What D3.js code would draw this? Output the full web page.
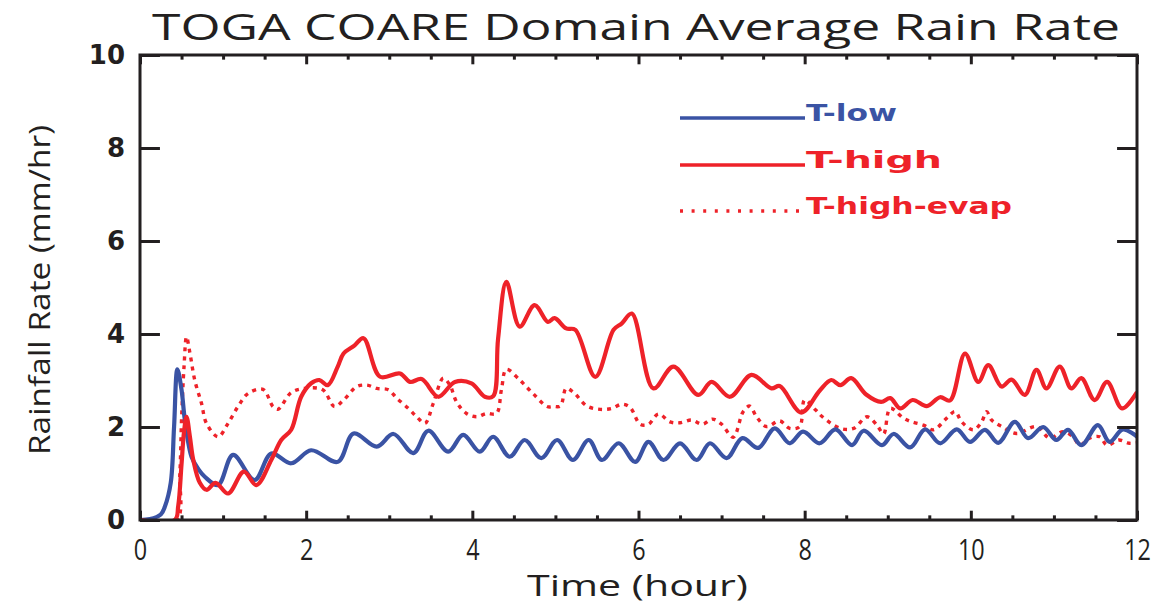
<!DOCTYPE html>
<html>
<head>
<meta charset="utf-8">
<script src="https://cdn.jsdelivr.net/npm/d3@7"></script>
<style>
  html, body { margin: 0; padding: 0; background: #fff; }
  svg { display: block; }
</style>
</head>
<body>
<svg id="chart" width="1166" height="607"></svg>
<script>
// Domain-averaged rain rate, three model runs (time in hours, rate in mm/hr)
const lowTime = [0,0.12,0.25,0.3,0.37,0.41,0.45,0.5,0.54,0.62,0.7,0.78,0.94,1.12,1.38,1.58,1.82,2.06,2.38,2.57,2.85,3.05,3.29,3.47,3.71,3.89,4.09,4.25,4.45,4.63,4.83,5.02,5.21,5.40,5.56,5.76,5.96,6.12,6.30,6.50,6.70,6.86,7.06,7.25,7.44,7.64,7.82,7.98,8.18,8.37,8.57,8.71,8.93,9.07,9.27,9.45,9.63,9.83,9.99,10.17,10.33,10.53,10.69,10.87,11.03,11.17,11.33,11.53,11.67,11.83,12.0];
const lowRate = [0,0.02,0.12,0.29,0.8,2.0,3.24,2.8,2.15,1.36,1.1,0.93,0.75,1.4,0.86,1.43,1.22,1.5,1.25,1.86,1.58,1.85,1.44,1.92,1.47,1.83,1.47,1.79,1.36,1.72,1.33,1.72,1.29,1.72,1.29,1.65,1.25,1.68,1.29,1.65,1.29,1.65,1.33,1.76,1.55,1.97,1.65,1.9,1.65,1.95,1.61,1.92,1.61,1.85,1.56,1.95,1.65,1.95,1.68,1.94,1.66,2.11,1.76,2.0,1.72,1.94,1.61,2.04,1.68,1.95,1.79];

const highTime = [0,0.42,0.46,0.5,0.53,0.56,0.6,0.64,0.72,0.8,0.91,1.06,1.25,1.4,1.58,1.7,1.82,1.94,2.06,2.16,2.26,2.38,2.45,2.58,2.69,2.89,3.13,3.25,3.39,3.59,3.79,3.99,4.15,4.25,4.31,4.41,4.57,4.75,4.91,4.99,5.13,5.24,5.48,5.7,5.8,5.92,6.18,6.42,6.72,6.88,7.1,7.36,7.6,7.7,7.96,8.18,8.32,8.43,8.56,8.74,8.92,9.03,9.15,9.3,9.47,9.63,9.75,9.93,10.09,10.21,10.37,10.49,10.65,10.79,10.91,11.07,11.21,11.33,11.49,11.64,11.82,12.0];
const highRate = [0,0,0.3,1.2,1.9,2.22,1.8,1.3,0.8,0.65,0.8,0.57,1.04,0.75,1.29,1.72,1.94,2.65,2.94,3.01,2.9,3.3,3.58,3.75,3.91,3.08,3.15,2.97,3.03,2.65,2.97,2.94,2.65,2.66,3.9,5.12,4.16,4.62,4.26,4.34,4.12,4.09,3.08,4.09,4.23,4.44,2.83,3.3,2.69,2.97,2.65,3.12,2.83,2.88,2.31,2.78,3.01,2.9,3.05,2.7,2.54,2.62,2.4,2.58,2.45,2.64,2.57,3.58,2.97,3.33,2.87,3.02,2.69,3.23,2.83,3.3,2.83,3.05,2.58,2.97,2.4,2.75];

const evapTime = [0,0.44,0.48,0.5,0.53,0.56,0.6,0.66,0.74,0.8,0.94,1.06,1.18,1.3,1.48,1.6,1.66,1.82,1.98,2.2,2.34,2.45,2.61,2.73,2.85,2.99,3.09,3.23,3.33,3.43,3.53,3.65,3.73,3.81,3.93,4.05,4.17,4.29,4.35,4.41,4.57,4.73,4.9,4.98,5.06,5.13,5.22,5.38,5.54,5.68,5.8,5.9,6.02,6.12,6.24,6.38,6.5,6.64,6.77,6.89,7.0,7.14,7.26,7.34,7.42,7.54,7.7,7.82,7.94,8.0,8.13,8.22,8.43,8.59,8.75,8.87,8.95,9.03,9.19,9.29,9.43,9.55,9.71,9.81,9.89,10.03,10.13,10.19,10.25,10.37,10.55,10.79,10.95,11.11,11.23,11.31,11.43,11.55,11.64,11.78,11.91,12.0];
const evapRate = [0,0,1.0,2.15,3.3,3.94,3.6,3.0,2.51,2.08,1.79,2.08,2.44,2.72,2.81,2.44,2.38,2.74,2.83,2.8,2.44,2.58,2.87,2.9,2.83,2.8,2.62,2.4,2.22,2.08,2.51,3.05,2.9,2.54,2.29,2.22,2.29,2.29,2.8,3.24,3.01,2.72,2.44,2.44,2.45,2.83,2.74,2.45,2.38,2.4,2.49,2.42,2.06,2.06,2.28,2.11,2.09,2.15,2.06,2.17,2.06,1.78,2.33,2.45,2.22,2.01,2.13,1.97,2.01,2.58,2.37,2.21,1.97,1.97,2.22,2.04,1.85,2.4,2.19,2.11,2.04,1.94,2.19,2.33,2.11,1.94,2.11,2.33,2.15,2.01,1.86,2.01,1.76,1.9,1.79,1.61,1.76,1.79,1.61,1.72,1.65,1.66];

const xMajorTicks = [0, 2, 4, 6, 8, 10, 12];
const yMajorTicks = [0, 2, 4, 6, 8, 10];
const seriesNames = ["T-low", "T-high", "T-high-evap"];

const BLUE = "#3a53a4";
const RED = "#ee2229";
const INK = "#231f20";

const svg = d3.select("#chart");
const plotLeft = 140, plotRight = 1137, plotTop = 55, plotBottom = 520;
const W = plotRight - plotLeft, H = plotBottom - plotTop;

const x = d3.scaleLinear().domain([0, 12]).range([plotLeft, plotRight]);
const y = d3.scaleLinear().domain([0, 10]).range([plotBottom, plotTop]);

const zip = (ts, vs) => ts.map((t, i) => [t, vs[i]]);
const line = d3.line()
  .x(d => x(d[0]))
  .y(d => y(d[1]))
  .curve(d3.curveCatmullRom.alpha(0.5));

svg.append("defs").append("clipPath").attr("id", "clip")
  .append("rect").attr("x", plotLeft).attr("y", plotTop).attr("width", W).attr("height", H);

const curves = svg.append("g").attr("clip-path", "url(#clip)");
curves.append("path").datum(zip(evapTime, evapRate))
  .attr("d", line).attr("fill", "none").attr("stroke", RED)
  .attr("stroke-width", 3.4).attr("stroke-dasharray", "4,5");
curves.append("path").datum(zip(lowTime, lowRate))
  .attr("d", line).attr("fill", "none").attr("stroke", BLUE)
  .attr("stroke-width", 4.2).attr("stroke-linejoin", "round");
curves.append("path").datum(zip(highTime, highRate))
  .attr("d", line).attr("fill", "none").attr("stroke", RED)
  .attr("stroke-width", 4.2).attr("stroke-linejoin", "round");

// Axes: tick lengths scale with the opposite plot dimension
const xMajorLen = 0.02 * H, xMinorLen = 0.01 * H;
const yMajorLen = 0.02 * W;
const xMinor = d3.range(0, 12.01, 0.5).filter(v => !xMajorTicks.includes(v));

const bottomAxis = d3.axisBottom(x).tickValues(xMajorTicks).tickSize(-xMajorLen).tickFormat(d3.format("d"));
const bottomMinor = d3.axisBottom(x).tickValues(xMinor).tickSize(-xMinorLen).tickFormat("");
const topAxis = d3.axisTop(x).tickValues(xMajorTicks).tickSize(-xMajorLen).tickFormat("");
const topMinor = d3.axisTop(x).tickValues(xMinor).tickSize(-xMinorLen).tickFormat("");
const leftAxis = d3.axisLeft(y).tickValues(yMajorTicks).tickSize(-yMajorLen).tickFormat(d3.format("d"));
const rightAxis = d3.axisRight(y).tickValues(yMajorTicks).tickSize(-yMajorLen).tickFormat("");

function styleAxis(g) {
  g.selectAll(".domain").remove();
  g.selectAll("line").attr("stroke", INK).attr("stroke-width", 3);
}

const gx = svg.append("g").attr("transform", `translate(0,${plotBottom})`).call(bottomAxis).call(styleAxis);
svg.append("g").attr("transform", `translate(0,${plotBottom})`).call(bottomMinor).call(styleAxis);
svg.append("g").attr("transform", `translate(0,${plotTop})`).call(topAxis).call(styleAxis);
svg.append("g").attr("transform", `translate(0,${plotTop})`).call(topMinor).call(styleAxis);
const gy = svg.append("g").attr("transform", `translate(${plotLeft},0)`).call(leftAxis).call(styleAxis);
svg.append("g").attr("transform", `translate(${plotRight},0)`).call(rightAxis).call(styleAxis);

// Bottom tick labels: narrow lettering, squeezed horizontally
gx.selectAll(".tick text")
  .attr("font-family", "'Open Sans', sans-serif")
  .attr("font-size", 30).attr("fill", INK)
  .attr("y", 0).attr("dy", null)
  .attr("transform", "translate(0,40) scale(0.78,1)");

gy.selectAll(".tick text")
  .attr("font-family", "'DejaVu Sans', sans-serif")
  .attr("font-weight", "bold")
  .attr("font-size", 26).attr("fill", INK)
  .attr("x", -15).attr("text-anchor", "end");

// Frame
svg.append("rect").attr("x", plotLeft).attr("y", plotTop).attr("width", W).attr("height", H)
  .attr("fill", "none").attr("stroke", INK).attr("stroke-width", 3);

// Titles
function fitText(sel, len) {
  return sel.attr("textLength", len).attr("lengthAdjust", "spacingAndGlyphs");
}
fitText(svg.append("text")
  .attr("x", 152).attr("y", 40)
  .attr("font-family", "'Open Sans', sans-serif").attr("font-size", 37)
  .attr("fill", INK)
  .text("TOGA COARE Domain Average Rain Rate"), 968);

fitText(svg.append("text")
  .attr("x", 527).attr("y", 596)
  .attr("font-family", "'Open Sans', sans-serif").attr("font-size", 29)
  .attr("fill", INK)
  .text("Time (hour)"), 221);

fitText(svg.append("text")
  .attr("transform", "translate(50,455) rotate(-90)")
  .attr("x", 0).attr("y", 0)
  .attr("font-family", "'Open Sans', sans-serif").attr("font-size", 29)
  .attr("fill", INK)
  .text("Rainfall Rate (mm/hr)"), 330);

// Legend
const legendRows = [
  { name: seriesNames[0], color: BLUE, dash: null, y: 118, len: 91 },
  { name: seriesNames[1], color: RED, dash: null, y: 165, len: 136 },
  { name: seriesNames[2], color: RED, dash: "3,8.6", y: 211, len: 206 }
];
const legend = svg.append("g");
legendRows.forEach(r => {
  legend.append("line")
    .attr("x1", 680).attr("x2", 805).attr("y1", r.y).attr("y2", r.y)
    .attr("stroke", r.color).attr("stroke-width", 3.4)
    .attr("stroke-dasharray", r.dash);
  fitText(legend.append("text")
    .attr("x", 806).attr("y", r.y + 3)
    .attr("font-family", "'DejaVu Sans', sans-serif").attr("font-weight", "bold")
    .attr("font-size", 23).attr("fill", r.color)
    .text(r.name), r.len);
});
</script>
</body>
</html>
